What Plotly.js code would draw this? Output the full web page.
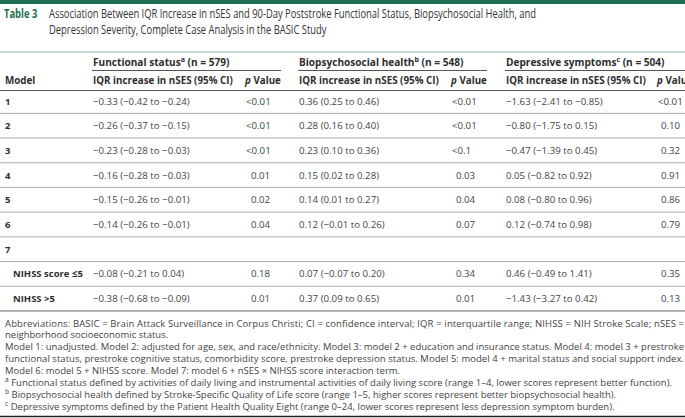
<!DOCTYPE html>
<html>
<head>
<meta charset="utf-8">
<script src="https://cdn.plot.ly/plotly-3.0.1.min.js"></script>
<style>html,body{margin:0;padding:0;background:#fff;}</style>
</head>
<body>
<div id="chart" style="width:685px;height:418px;"></div>
<script>
// ---- Data ----
const modelLabels = ["1", "2", "3", "4", "5", "6", "7", "NIHSS score ≤5", "NIHSS >5"];
const modelIndent = [false, false, false, false, false, false, false, true, true];

const fsEst = [-0.33, -0.26, -0.23, -0.16, -0.15, -0.14, null, -0.08, -0.38];
const fsLo  = [-0.42, -0.37, -0.28, -0.28, -0.26, -0.26, null, -0.21, -0.68];
const fsHi  = [-0.24, -0.15, -0.03, -0.03, -0.01, -0.01, null, 0.04, -0.09];
const fsP   = ["<0.01", "<0.01", "<0.01", "0.01", "0.02", "0.04", "", "0.18", "0.01"];

const bpEst = [0.36, 0.28, 0.23, 0.15, 0.14, 0.12, null, 0.07, 0.37];
const bpLo  = [0.25, 0.16, 0.10, 0.02, 0.01, -0.01, null, -0.07, 0.09];
const bpHi  = [0.46, 0.40, 0.36, 0.28, 0.27, 0.26, null, 0.20, 0.65];
const bpP   = ["<0.01", "<0.01", "<0.1", "0.03", "0.04", "0.07", "", "0.34", "0.01"];

const dpEst = [-1.63, -0.80, -0.47, 0.05, 0.08, 0.12, null, 0.46, -1.43];
const dpLo  = [-2.41, -1.75, -1.39, -0.82, -0.80, -0.74, null, -0.49, -3.27];
const dpHi  = [-0.85, 0.15, 0.45, 0.92, 0.96, 0.98, null, 1.41, 0.42];
const dpP   = ["<0.01", "0.10", "0.32", "0.91", "0.86", "0.79", "", "0.35", "0.13"];

const groupHeaders = [
  "Functional status<sup>a</sup> (n = 579)",
  "Biopsychosocial health<sup>b</sup> (n = 548)",
  "Depressive symptoms<sup>c</sup> (n = 504)"
];
const subHeaderEst = "IQR increase in nSES (95% CI)";
const subHeaderP = "<i>p</i> Value";

const titleLabel = "Table 3";
const titleLines = [
  "Association Between IQR Increase in nSES and 90-Day Poststroke Functional Status, Biopsychosocial Health, and",
  "Depression Severity, Complete Case Analysis in the BASIC Study"
];

const footnotes = [
  "Abbreviations: BASIC = Brain Attack Surveillance in Corpus Christi; CI = confidence interval; IQR = interquartile range; NIHSS = NIH Stroke Scale; nSES =",
  "neighborhood socioeconomic status.",
  "Model 1: unadjusted. Model 2: adjusted for age, sex, and race/ethnicity. Model 3: model 2 + education and insurance status. Model 4: model 3 + prestroke",
  "functional status, prestroke cognitive status, comorbidity score, prestroke depression status. Model 5: model 4 + marital status and social support index.",
  "Model 6: model 5 + NIHSS score. Model 7: model 6 + nSES × NIHSS score interaction term.",
  "<sup>a</sup> Functional status defined by activities of daily living and instrumental activities of daily living score (range 1–4, lower scores represent better function).",
  "<sup>b</sup> Biopsychosocial health defined by Stroke-Specific Quality of Life score (range 1–5, higher scores represent better biopsychosocial health).",
  "<sup>c</sup> Depressive symptoms defined by the Patient Health Quality Eight (range 0–24, lower scores represent less depression symptom burden)."
];
const justified = [true, false, true, true, false, false, false, false];

// ---- Helpers ----
function fmt(v) {
  const s = Math.abs(v).toFixed(2);
  return (v < 0 ? "\u2212" : "") + s;
}
function cell(e, lo, hi) {
  if (e === null) return "";
  return fmt(e) + " (" + fmt(lo) + " to " + fmt(hi) + ")";
}

// ---- Layout geometry ----
const W = 685, H = 418;
const FONT = "'Open Sans', sans-serif";
const TXT = "#444444";
const DARK = "#2e2e2e";
const GREEN = "#1f6e4f";
const bodySize = 9.7;
const groupSize = 10.1;
const subSize = 9.8;
const labelSize = 9.5;
const footSize = 9.5;
const rowY0 = 101, rowStep = 24.7;
const colEst = [92, 298, 505];
const colPlt = [245, 450.5, 657];   // x where a "<" value starts
const colPnum = [250, 455, 659.5];  // x where a plain number starts
const groupEnds = [281, 487, 685];

const annotations = [];
const shapes = [];

function ann(x, y, text, opts) {
  annotations.push(Object.assign({
    x: x, y: y, xref: "x", yref: "y", text: text, showarrow: false,
    xanchor: "left", yanchor: "middle", align: "left",
    font: {family: FONT, size: bodySize, color: TXT}, borderpad: 0
  }, opts || {}));
}
function hline(x0, x1, y, color, w) {
  shapes.push({type: "line", xref: "x", yref: "y", x0: x0, x1: x1, y0: y, y1: y,
    line: {color: color, width: w}});
}

// top bar
shapes.push({type: "rect", xref: "x", yref: "y", x0: 0, x1: W, y0: 0, y1: 4,
  fillcolor: GREEN, line: {width: 0}});

// title (condensed afterwards)
const titleSize = 12;
ann(3, 13.5, "<b>" + titleLabel + "</b>", {font: {family: FONT, size: titleSize, color: GREEN}});
ann(48, 13.5, titleLines[0], {font: {family: FONT, size: titleSize, color: "#333"}});
ann(48, 29.5, titleLines[1], {font: {family: FONT, size: titleSize, color: "#333"}});

hline(0, W, 52, "#8fae9f", 1);

// group headers
for (let g = 0; g < 3; g++) {
  ann(colEst[g], 61, "<b>" + groupHeaders[g] + "</b>", {font: {family: FONT, size: groupSize, color: DARK}});
  hline(colEst[g], groupEnds[g], 70.5, "#555", 1);
  ann(colEst[g], 80.5, "<b>" + subHeaderEst + "</b>", {font: {family: FONT, size: subSize, color: DARK}});
  ann(colPlt[g] - 2, 80.5, "<b>" + subHeaderP + "</b>", {font: {family: FONT, size: subSize, color: DARK}});
}
ann(4, 80.5, "<b>Model</b>", {font: {family: FONT, size: subSize, color: DARK}});
hline(0, W, 90.5, "#555", 1);

// rows
const est = [[fsEst, fsLo, fsHi, fsP], [bpEst, bpLo, bpHi, bpP], [dpEst, dpLo, dpHi, dpP]];
for (let i = 0; i < modelLabels.length; i++) {
  const y = rowY0 + i * rowStep;
  ann(modelIndent[i] ? 12 : 4, y, "<b>" + modelLabels[i] + "</b>", {font: {family: FONT, size: labelSize, color: DARK}});
  for (let g = 0; g < 3; g++) {
    const [e, lo, hi, p] = est[g];
    const t = cell(e[i], lo[i], hi[i]);
    if (t) ann(colEst[g], y, t);
    if (p[i]) ann(p[i].charAt(0) === "<" ? colPlt[g] : colPnum[g], y, p[i].replace("<", "&lt;"));
  }
  const sepY = y + rowStep / 2;
  if (i < modelLabels.length - 1) hline(0, W, sepY, "#adadad", 1);
  else hline(0, W, sepY, "#666", 1);
}

// footnotes
const footY0 = 323, footStep = 11.86;
for (let k = 0; k < footnotes.length; k++) {
  ann(4, footY0 + k * footStep, footnotes[k], {font: {family: FONT, size: footSize, color: TXT}});
}
hline(0, W, 416.5, "#222", 1.5);

const layout = {
  width: W, height: H,
  margin: {l: 0, r: 0, t: 0, b: 0},
  paper_bgcolor: "#fff", plot_bgcolor: "#fff",
  xaxis: {range: [0, W], visible: false, fixedrange: true},
  yaxis: {range: [H, 0], visible: false, fixedrange: true},
  showlegend: false,
  annotations: annotations,
  shapes: shapes
};
const data = [{x: [0, W], y: [0, H], type: "scatter", mode: "markers",
  marker: {opacity: 0}, hoverinfo: "skip"}];
Plotly.newPlot("chart", data, layout, {staticPlot: true, displayModeBar: false}).then(function () {
  const texts = Array.from(document.querySelectorAll("text.annotation-text"));
  // emulate the condensed title typeface by compressing the glyphs horizontally
  const squeeze = 0.78;
  const targets = [titleLabel, titleLines[0], titleLines[1]];
  texts.forEach(function (t) {
    if (targets.indexOf(t.textContent) < 0) return;
    const bb = t.getBBox();
    t.setAttribute("text-anchor", "start");
    t.setAttribute("x", bb.x);
    t.setAttribute("textLength", (bb.width * squeeze).toFixed(1));
    t.setAttribute("lengthAdjust", "spacingAndGlyphs");
  });
  // justify the full-width footnote lines to the table width
  footnotes.forEach(function (f, k) {
    if (!justified[k]) return;
    texts.forEach(function (t) {
      if (t.textContent !== f) return;
      const bb = t.getBBox();
      t.setAttribute("text-anchor", "start");
      t.setAttribute("x", bb.x);
      t.setAttribute("textLength", (W - 5 - bb.x).toFixed(1));
      t.setAttribute("lengthAdjust", "spacing");
    });
  });
});
</script>
</body>
</html>
